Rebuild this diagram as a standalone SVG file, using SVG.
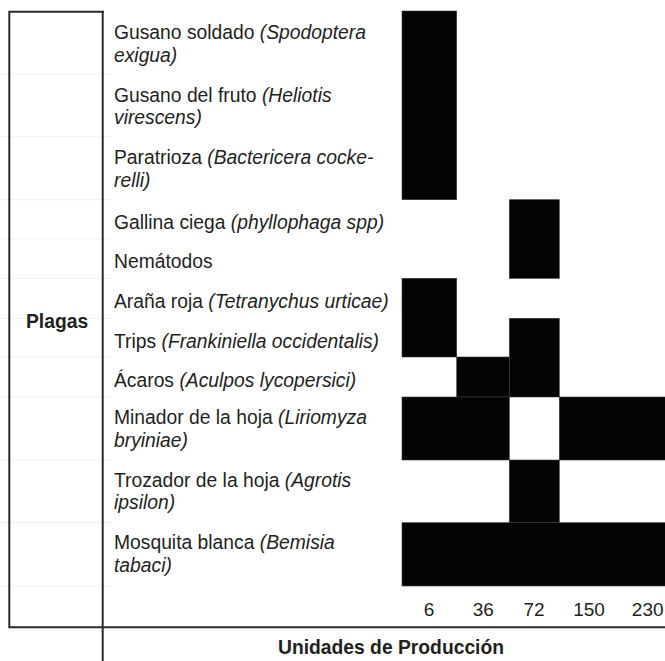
<svg xmlns="http://www.w3.org/2000/svg" width="665" height="661" viewBox="0 0 665 661">
<style>
  .lbl { font-family: "Liberation Sans", Arial, sans-serif; font-size: 19.3px; fill: #231f20; }
  .it { font-style: italic; }
  .bold { font-family: "Liberation Sans", Arial, sans-serif; font-size: 19.3px; font-weight: bold; fill: #231f20; }
  .num { font-family: "Liberation Sans", Arial, sans-serif; font-size: 19px; fill: #231f20; text-anchor: middle; }
  .cell { fill: #040404; stroke: #3a3a3a; stroke-width: 0.6; }
  .frame { stroke: #2b2b2b; stroke-width: 2; fill: none; }
  .faint { stroke: #f1f1f1; stroke-width: 1; }
</style>
<rect width="665" height="661" fill="#ffffff"/>

<g id="faint-grid">
  <line class="faint" x1="0" y1="73.9" x2="112" y2="73.9"/>
  <line class="faint" x1="0" y1="136.8" x2="112" y2="136.8"/>
  <line class="faint" x1="0" y1="199.7" x2="112" y2="199.7"/>
  <line class="faint" x1="0" y1="239" x2="112" y2="239"/>
  <line class="faint" x1="0" y1="278.3" x2="112" y2="278.3"/>
  <line class="faint" x1="0" y1="318.3" x2="112" y2="318.3"/>
  <line class="faint" x1="0" y1="357" x2="112" y2="357"/>
  <line class="faint" x1="0" y1="397" x2="112" y2="397"/>
  <line class="faint" x1="0" y1="460" x2="112" y2="460"/>
  <line class="faint" x1="0" y1="522.7" x2="112" y2="522.7"/>
  <line class="faint" x1="0" y1="586" x2="112" y2="586"/>
</g>

<g id="cells">
  <rect class="cell" x="402" y="11" width="54.7" height="188.7"/>
  <rect class="cell" x="509.3" y="199.7" width="50" height="78.6"/>
  <rect class="cell" x="402" y="278.3" width="54.7" height="78.7"/>
  <rect class="cell" x="509.3" y="318.3" width="50" height="78.7"/>
  <rect class="cell" x="456.7" y="357" width="52.6" height="40"/>
  <rect class="cell" x="402" y="397" width="107.3" height="63"/>
  <rect class="cell" x="559.3" y="397" width="106.7" height="63"/>
  <rect class="cell" x="509.3" y="460" width="50" height="62.7"/>
  <rect class="cell" x="402" y="522.7" width="264" height="63.3"/>
</g>

<g id="row-1">
  <text class="lbl" x="114" y="39">Gusano soldado <tspan class="it">(Spodoptera</tspan></text>
  <text class="lbl it" x="114" y="61.5">exigua)</text>
</g>
<g id="row-2">
  <text class="lbl" x="114" y="101.7">Gusano del fruto <tspan class="it">(Heliotis</tspan></text>
  <text class="lbl it" x="114" y="124.2">virescens)</text>
</g>
<g id="row-3">
  <text class="lbl" x="114" y="164.3">Paratrioza <tspan class="it">(Bactericera cocke-</tspan></text>
  <text class="lbl it" x="114" y="186.8">relli)</text>
</g>
<g id="row-4">
  <text class="lbl" x="114" y="229">Gallina ciega <tspan class="it">(phyllophaga spp)</tspan></text>
</g>
<g id="row-5">
  <text class="lbl" x="114" y="267.5">Nemátodos</text>
</g>
<g id="row-6">
  <text class="lbl" x="114" y="307.5">Araña roja <tspan class="it">(Tetranychus urticae)</tspan></text>
</g>
<g id="row-7">
  <text class="lbl" x="114" y="347.5">Trips <tspan class="it">(Frankiniella occidentalis)</tspan></text>
</g>
<g id="row-8">
  <text class="lbl" x="114" y="386.7">Ácaros <tspan class="it">(Aculpos lycopersici)</tspan></text>
</g>
<g id="row-9">
  <text class="lbl" x="114" y="424.3">Minador de la hoja <tspan class="it">(Liriomyza</tspan></text>
  <text class="lbl it" x="114" y="447">bryiniae)</text>
</g>
<g id="row-10">
  <text class="lbl" x="114" y="486.7">Trozador de la hoja <tspan class="it">(Agrotis</tspan></text>
  <text class="lbl it" x="114" y="509">ipsilon)</text>
</g>
<g id="row-11">
  <text class="lbl" x="114" y="549.3">Mosquita blanca <tspan class="it">(Bemisia</tspan></text>
  <text class="lbl it" x="114" y="572">tabaci)</text>
</g>

<g id="plagas">
  <text class="bold" x="26" y="328">Plagas</text>
</g>

<g id="axis-values">
  <text class="num" x="429" y="616">6</text>
  <text class="num" x="483.3" y="616">36</text>
  <text class="num" x="534" y="616">72</text>
  <text class="num" x="589" y="616">150</text>
  <text class="num" x="647.7" y="616">230</text>
</g>

<g id="axis-title">
  <text class="bold" x="391" y="654.3" text-anchor="middle">Unidades de Producción</text>
</g>

<g id="connectors">
  <polyline class="frame" points="104,11.7 9.3,11.7 9.3,627.3 665,627.3"/>
  <line class="frame" x1="102.7" y1="11" x2="102.7" y2="661"/>
</g>
</svg>
